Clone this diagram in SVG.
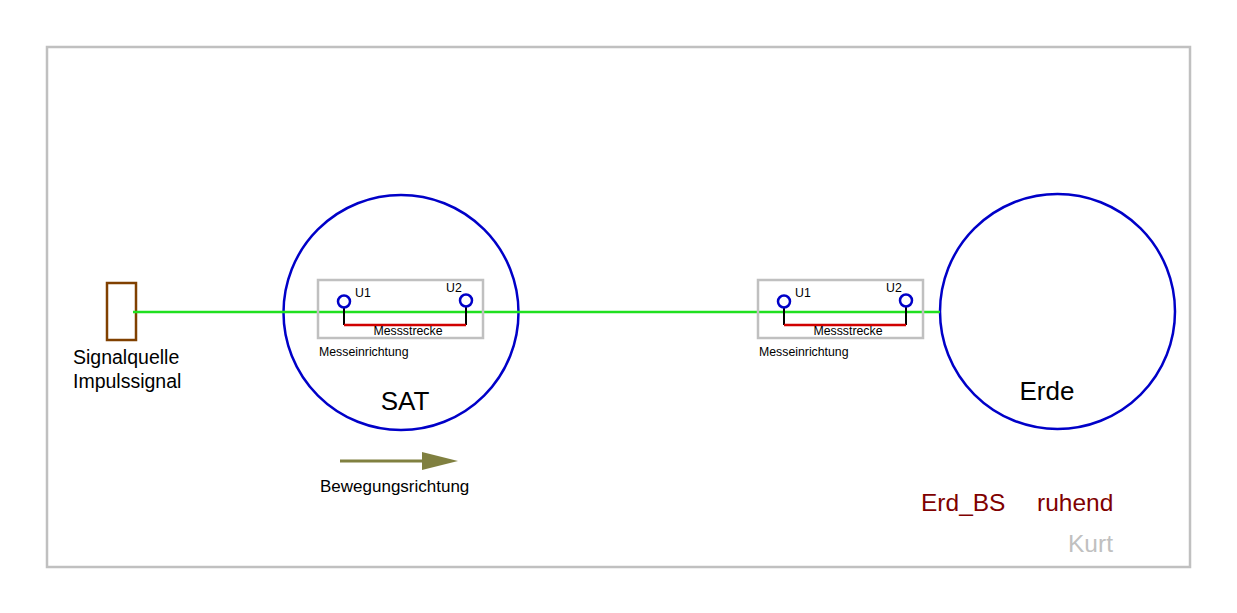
<svg xmlns="http://www.w3.org/2000/svg" width="1237" height="613" viewBox="0 0 1237 613">
<style>
text{font-family:"Liberation Sans",Arial,sans-serif;fill:#000}
.small{font-size:12.3px}
.planet{fill:none;stroke:#0000c8;stroke-width:2.5}
.box{fill:none;stroke:#c0c0c0;stroke-width:2.5}
.port{fill:none;stroke:#0000c8;stroke-width:2.5}
.lead{stroke:#000;stroke-width:2;fill:none}
.path{stroke:#d00000;stroke-width:2.5;fill:none}
.red{fill:#800000;font-size:24.5px}
</style>
<rect width="1237" height="613" fill="#fff"/>
<rect x="47" y="47" width="1143" height="520" fill="none" stroke="#c0c0c0" stroke-width="2.5"/>
<g id="sat">
<circle class="planet" cx="401" cy="312.5" r="117.5"/>
<text x="405" y="410" font-size="26" text-anchor="middle">SAT</text>
</g>
<g id="erde">
<circle class="planet" cx="1057.5" cy="311.5" r="117.5"/>
<text x="1047" y="400" font-size="26" text-anchor="middle">Erde</text>
</g>
<g id="signalquelle">
<rect x="107" y="283" width="29" height="57" fill="#fff" stroke="#804000" stroke-width="2.5"/>
<text x="73" y="364" font-size="19.5">Signalquelle</text>
<text x="73" y="388" font-size="19.5">Impulssignal</text>
</g>
<g id="connectors">
<line x1="133" y1="312" x2="940" y2="312" stroke="#20e020" stroke-width="2.5"/>
</g>
<g id="mess_sat">
<rect class="box" x="318" y="280" width="165" height="58"/>
<polyline class="lead" points="344,308 344,325"/>
<polyline class="lead" points="466,307 466,325"/>
<line class="path" x1="344" y1="325" x2="466" y2="325"/>
<circle class="port" cx="344" cy="301.5" r="6"/>
<circle class="port" cx="466" cy="300.5" r="6"/>
<text class="small" x="355" y="297">U1</text>
<text class="small" x="446" y="292">U2</text>
<text class="small" x="408" y="335" text-anchor="middle">Messstrecke</text>
<text class="small" x="319" y="356">Messeinrichtung</text>
</g>
<g id="mess_erde">
<rect class="box" x="758" y="280" width="165" height="58"/>
<polyline class="lead" points="784,308 784,325"/>
<polyline class="lead" points="906,307 906,325"/>
<line class="path" x1="784" y1="325" x2="906" y2="325"/>
<circle class="port" cx="784" cy="301.5" r="6"/>
<circle class="port" cx="906" cy="300.5" r="6"/>
<text class="small" x="795" y="297">U1</text>
<text class="small" x="886" y="292">U2</text>
<text class="small" x="848" y="335" text-anchor="middle">Messstrecke</text>
<text class="small" x="759" y="356">Messeinrichtung</text>
</g>
<g id="bewegung">
<line x1="340" y1="461" x2="424" y2="461" stroke="#808040" stroke-width="3"/>
<polygon points="422,452 458,461 422,470" fill="#808040"/>
<text x="320" y="492" font-size="17">Bewegungsrichtung</text>
</g>
<g id="labels">
<text class="red" x="921" y="511">Erd_BS</text>
<text class="red" x="1037" y="511">ruhend</text>
<text x="1068" y="552" font-size="24.5" style="fill:#c0c0c0">Kurt</text>
</g>
</svg>
